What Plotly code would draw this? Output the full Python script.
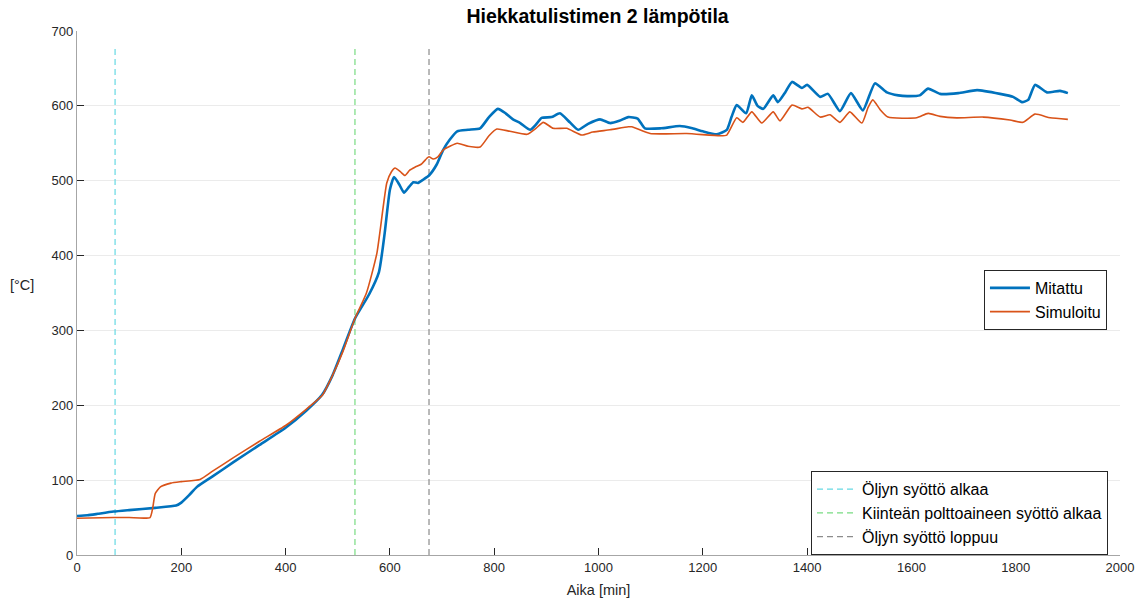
import plotly.graph_objects as go

# Measured temperature, sand heater 2 (time in minutes, °C)
measured_t = [0, 20, 40, 70, 100, 150, 190, 200, 215, 230, 260, 300, 350, 400, 440, 470, 490, 510, 533,
              560, 579, 590, 600, 608, 618, 627, 637, 645, 654, 665, 675, 690, 702, 715, 729, 750, 773,
              790, 807, 822, 836, 850, 869, 880, 891, 910, 926, 945, 961, 980, 1003, 1022, 1040, 1057,
              1075, 1089, 1120, 1156, 1180, 1200, 1227, 1246, 1255, 1265, 1283, 1294, 1305, 1316, 1335,
              1344, 1358, 1371, 1390, 1400, 1425, 1440, 1463, 1484, 1507, 1530, 1553, 1575, 1592, 1616,
              1632, 1655, 1690, 1726, 1770, 1795, 1812, 1824, 1837, 1860, 1885, 1900]
measured_T = [52, 53, 55, 58, 60, 63, 66, 70, 80, 91, 105, 124, 147, 170, 193, 214, 240, 275, 316,
              348, 378, 430, 488, 505, 495, 484, 492, 498, 497, 502, 507, 522, 541, 555, 566, 568, 570,
              585, 596, 590, 582, 577, 568, 575, 584, 585, 590, 578, 568, 576, 582, 577, 580, 585,
              583, 570, 570, 573, 570, 566, 562, 568, 585, 601, 590, 614, 600, 596, 614,
              605, 618, 632, 624, 628, 612, 616, 593, 617, 594, 630, 618, 614, 613, 614,
              623, 616, 617, 621, 616, 612, 605, 608, 628, 618, 620, 617]

# Simulated temperature
simulated_t = [0, 70, 100, 140, 145, 150, 160, 180, 200, 236, 260, 300, 350, 400, 440, 470, 490, 510,
               533, 555, 575, 594, 603, 610, 620, 629, 638, 648, 660, 671, 675, 683, 692, 702, 715, 729,
               750, 773, 790, 805, 830, 863, 880, 894, 913, 939, 968, 989, 1022, 1057, 1064, 1099, 1169,
               1233, 1246, 1265, 1277, 1294, 1313, 1335, 1348, 1371, 1390, 1402, 1425, 1444, 1463, 1482,
               1505, 1517, 1526, 1540, 1555, 1610, 1632, 1655, 1687, 1738, 1789, 1814, 1837, 1866, 1900]
simulated_T = [49, 50, 50, 50, 62, 82, 91, 96, 98, 101, 112, 130, 152, 173, 195, 213, 240, 272,
               316, 350, 403, 497, 512, 517, 512, 507, 514, 518, 522, 530, 532, 529, 532, 541, 546, 550,
               546, 545, 560, 569, 566, 562, 570, 578, 570, 570, 561, 565, 568, 572, 572, 563, 563,
               560, 561, 584, 578, 592, 577, 592, 580, 601, 596, 598, 585, 588, 578, 592,
               577, 598, 608, 595, 585, 584, 590, 586, 584, 585, 581, 578, 589, 584, 582]

# Process events (minutes)
event_names = ["Öljyn syöttö alkaa", "Kiinteän polttoaineen syöttö alkaa", "Öljyn syöttö loppuu"]
event_times = [73, 533, 675]
event_colors = ["#66d9e3", "#78dc82", "#8c8c8c"]
event_span = [0, 680]

FONT = "Liberation Sans, Arial, sans-serif"
TXT = "#262626"

fig = go.Figure()

for name, t, c in zip(event_names, event_times, event_colors):
    fig.add_trace(go.Scatter(
        x=[t, t], y=event_span, mode="lines", name=name,
        line=dict(color=c, width=1.2, dash="6px,4px"),
        legend="legend2", hoverinfo="skip"))

fig.add_trace(go.Scatter(
    x=measured_t, y=measured_T, mode="lines", name="Mitattu",
    line=dict(color="#0072BD", width=2.6, shape="spline", smoothing=0.5), legend="legend"))
fig.add_trace(go.Scatter(
    x=simulated_t, y=simulated_T, mode="lines", name="Simuloitu",
    line=dict(color="#D95319", width=1.6, shape="spline", smoothing=0.5), legend="legend"))

axis_common = dict(
    gridcolor="#ebebeb", gridwidth=1,
    showline=True, linecolor="#a6a6a6", linewidth=1.2,
    ticks="inside", ticklen=7, tickcolor="#262626", tickwidth=1,
    tickfont=dict(family=FONT, size=13, color=TXT),
    zeroline=False, mirror=False, automargin=False,
)

fig.update_layout(
    width=1148, height=601,
    margin=dict(l=77, r=28, t=31, b=46),
    paper_bgcolor="white", plot_bgcolor="white",
    font=dict(family=FONT, color=TXT),
    title=dict(text="<b>Hiekkatulistimen 2 lämpötila</b>", x=0.5205, xanchor="center",
               y=0.973, yanchor="middle", font=dict(family=FONT, size=19.5, color="#000000")),
    xaxis=dict(range=[0, 2000], dtick=200, showgrid=False, **axis_common,
               title=dict(text="Aika [min]", font=dict(family=FONT, size=14.5, color=TXT), standoff=11)),
    yaxis=dict(range=[0, 700], dtick=100, showgrid=True, **axis_common),
    showlegend=True,
    legend=dict(x=0.9875, xanchor="right", y=0.544, yanchor="top",
                bgcolor="white", bordercolor="#262626", borderwidth=1,
                font=dict(family=FONT, size=16, color="#000000"),
                tracegroupgap=0, itemwidth=40),
    legend2=dict(x=0.9885, xanchor="right", y=0.160, yanchor="top",
                 bgcolor="white", bordercolor="#262626", borderwidth=1,
                 font=dict(family=FONT, size=16, color="#000000"),
                 tracegroupgap=0, itemwidth=40),
    annotations=[dict(text="[°C]", x=-0.053, y=0.515, xref="paper", yref="paper",
                      xanchor="center", yanchor="middle",
                      showarrow=False, font=dict(family=FONT, size=14.5, color=TXT))],
)

fig.write_html("out.html")
